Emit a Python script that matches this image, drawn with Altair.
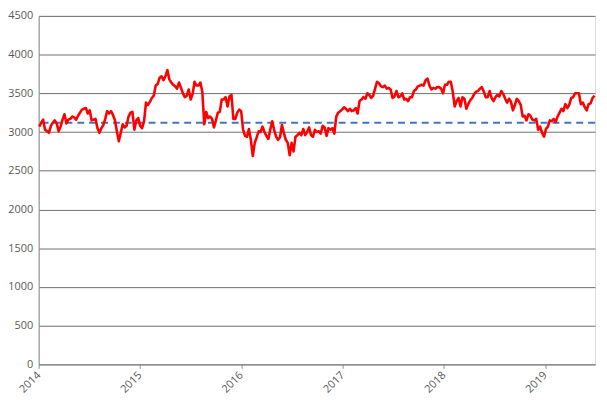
import altair as alt
import pandas as pd

# Weekly closing levels, Jan 2014 .. Jun 2019
v2014 = [3070, 3120, 3160, 3030, 3010, 2990, 3080, 3120, 3150, 3110, 3010, 3070, 3160,
         3230, 3110, 3160, 3170, 3200, 3190, 3160, 3210, 3250, 3290, 3300, 3310, 3240,
         3280, 3150, 3160, 3170, 3050, 2990, 3050, 3090, 3170, 3270, 3240, 3270, 3220,
         3150, 3010, 2880, 2990, 3100, 3060, 3080, 3200, 3250, 3260, 3030, 3150, 3180]
v2015 = [3080, 3050, 3140, 3380, 3350, 3390, 3440, 3470, 3600, 3620, 3700, 3720, 3670,
         3720, 3800, 3680, 3640, 3610, 3590, 3560, 3640, 3570, 3500, 3450, 3470, 3550,
         3420, 3490, 3650, 3600, 3600, 3640, 3520, 3100, 3260, 3180, 3200, 3170, 3060,
         3150, 3250, 3260, 3420, 3420, 3450, 3330, 3460, 3480, 3170, 3170, 3250, 3290]
v2016 = [3270, 3030, 2950, 2940, 3040, 2900, 2690, 2860, 2930, 3010, 3000, 3070, 3000,
         2950, 2910, 3030, 3140, 3030, 2940, 2900, 2930, 3090, 2990, 2900, 2860, 2700,
         2860, 2750, 2940, 2960, 2990, 2960, 3040, 2960, 3000, 3060, 2960, 2940, 3030,
         3000, 3010, 2980, 3080, 3060, 2950, 3050, 3030, 3050, 2980, 3200, 3250, 3270, 3290]
v2017 = [3320, 3300, 3270, 3300, 3270, 3280, 3310, 3240, 3400, 3420, 3450, 3430, 3500,
         3480, 3440, 3470, 3560, 3650, 3630, 3590, 3580, 3600, 3560, 3570, 3550, 3440,
         3460, 3530, 3450, 3460, 3500, 3420, 3430, 3400, 3450, 3450, 3530, 3550, 3590,
         3600, 3610, 3600, 3670, 3690, 3600, 3550, 3570, 3560, 3580, 3580, 3560, 3500]
v2018 = [3610, 3610, 3650, 3650, 3520, 3330, 3400, 3440, 3330, 3450, 3430, 3300, 3360,
         3410, 3440, 3490, 3520, 3530, 3560, 3580, 3520, 3450, 3450, 3530, 3440, 3400,
         3450, 3480, 3460, 3530, 3490, 3430, 3380, 3430, 3390, 3280, 3350, 3430, 3400,
         3350, 3200, 3210, 3150, 3230, 3210, 3160, 3150, 3170, 3030, 3070, 2990, 2940]
v2019 = [3040, 3070, 3150, 3140, 3170, 3130, 3200, 3250, 3300, 3270, 3360, 3310, 3350,
         3440, 3450, 3500, 3500, 3500, 3360, 3380, 3320, 3280, 3360, 3370, 3440, 3470]

values = v2014 + v2015 + v2016 + v2017 + v2018 + v2019
start_date = "2014-01-03"
reference_level = 3120
years = [2014, 2015, 2016, 2017, 2018, 2019]
y_ticks = [0, 500, 1000, 1500, 2000, 2500, 3000, 3500, 4000, 4500]

dates = pd.date_range(start=start_date, periods=len(values), freq="7D")
df = pd.DataFrame({"date": dates, "value": values})
ref_df = pd.DataFrame({"level": [reference_level]})

FONT = "Open Sans"
LABEL = "#595959"

x_scale = alt.Scale(domain=[alt.DateTime(year=2014, month=1, date=1),
                            alt.DateTime(year=2019, month=6, date=30)])
y_scale = alt.Scale(domain=[0, 4500], nice=False)

x_axis = alt.Axis(
    title=None, format="%Y", grid=False,
    values=[alt.DateTime(year=y, month=1, date=1) for y in years],
    labelAngle=-45, labelAlign="right", labelBaseline="middle",
    labelFont=FONT, labelFontSize=11, labelColor=LABEL, labelPadding=5,
    tickColor="#8c8c8c", tickSize=4, domainColor="#8c8c8c", labelOverlap=False,
)
y_axis = alt.Axis(
    title=None, values=y_ticks, format="d", grid=True, gridColor="#6e6e6e", gridWidth=1,
    ticks=False, labelPadding=6, labelFont=FONT, labelFontSize=11, labelColor=LABEL,
    domainColor="#8c8c8c", labelOverlap=False,
)

ref = alt.Chart(ref_df).mark_rule(color="#4472c4", strokeWidth=2, strokeDash=[7, 5]).encode(
    y=alt.Y("level:Q", scale=y_scale, axis=y_axis),
)

line = alt.Chart(df).mark_line(color="#ff0000", strokeWidth=2.6, strokeJoin="round").encode(
    x=alt.X("date:T", scale=x_scale, axis=x_axis),
    y=alt.Y("value:Q", scale=y_scale, axis=y_axis),
)

chart = alt.layer(ref, line).properties(
    width=562, height=352,
    autosize=alt.AutoSizeParams(type="none"),
    padding={"left": 31, "top": 6, "right": 4, "bottom": 30},
).configure_view(stroke="#bfbfbf", strokeWidth=1).configure(background="white")

chart.save("out.html", embed_options={"renderer": "svg", "actions": False})
